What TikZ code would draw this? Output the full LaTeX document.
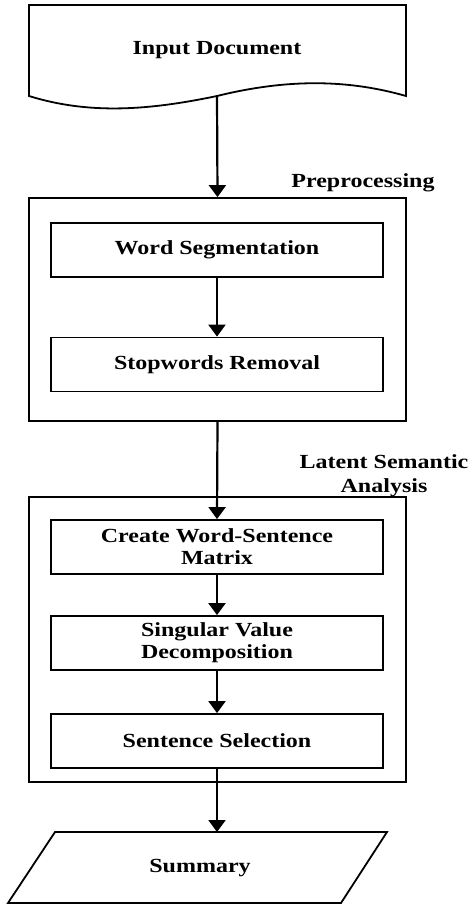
\documentclass[tikz,border=0pt]{standalone}
\usepackage{fontspec}
\setmainfont{Liberation Serif}
\usepackage{graphicx}
\usetikzlibrary{arrows.meta}
\newcommand{\wtext}[1]{\scalebox{1.2}[1]{#1}}

\begin{document}
\begin{tikzpicture}[x=0.5pt, y=-0.5pt,
    box/.style={draw, line width=0.9pt, minimum width=166pt, minimum height=27pt,
        inner sep=0pt, align=center, font=\bfseries\fontsize{10}{11}\selectfont},
    group/.style={draw, line width=0.9pt, minimum width=188.5pt, inner sep=0pt},
    tag/.style={inner sep=0pt, align=center, font=\bfseries\fontsize{10}{12}\selectfont},
    flow/.style={-{Triangle[length=6pt, width=8.5pt]}, line width=1.1pt}]
    \useasboundingbox (0,0) rectangle (473,904);

    % input document
    \draw[line width=0.9pt] (29,96) .. controls (90,115) and (150,110) .. (217,96)
        .. controls (290,78) and (350,80) .. (406,96) -- (406,5) -- (29,5) -- cycle;
    \node[tag] (doc) at (217,50) {\wtext{Input Document}};
    \coordinate (docbot) at (217,96);

    % preprocessing
    \node[group, minimum height=111.5pt] (pre) at (217.5,309.5) {};
    \node[tag] (prelbl) at (363,183) {\wtext{Preprocessing}};
    \node[box] (seg) at (217,250) {\wtext{Word Segmentation}};
    \node[box] (stop) at (217,364.5) {\wtext{Stopwords Removal}};

    % lsa
    \node[group, minimum height=142.5pt] (lsa) at (217.5,639.5) {};
    \node[tag] (lsalbl) at (384,476) {\wtext{Latent Semantic}\\\wtext{Analysis}};
    \node[box] (create) at (217,547) {\wtext{Create Word-Sentence}\\\wtext{Matrix}};
    \node[box] (svd) at (217,643) {\wtext{Singular Value}\\\wtext{Decomposition}};
    \node[box] (select) at (217,741) {\wtext{Sentence Selection}};

    % summary
    \draw[line width=0.9pt] (55,832) -- (387,832) -- (341,903) -- (8,903) -- cycle;
    \node[tag] (sum) at (200,868) {\wtext{Summary}};
    \coordinate (sumtop) at (217,832);

    \draw[flow] (docbot) -- (pre.north);
    \draw[flow] (seg) -- (stop);
    \draw[flow] (pre.south) -- (create.north);
    \draw[flow] (create) -- (svd);
    \draw[flow] (svd) -- (select);
    \draw[flow] (select) -- (sumtop);

\end{tikzpicture}
\end{document}
